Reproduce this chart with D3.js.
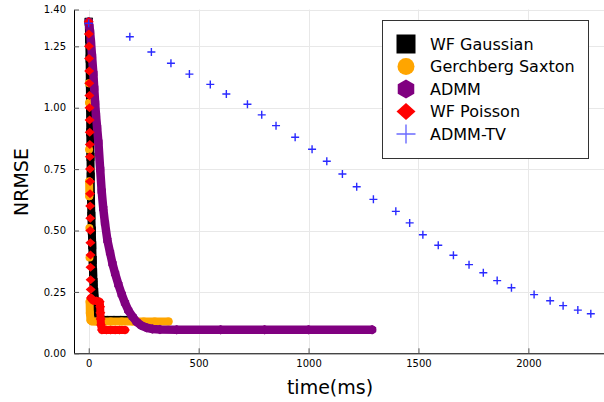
<!DOCTYPE html>
<html>
<head>
<meta charset="utf-8">
<script src="https://cdn.jsdelivr.net/npm/d3@7"></script>
<style>
  html, body { margin: 0; padding: 0; background: #fff; }
  svg { display: block; font-family: "DejaVu Sans", sans-serif; }
</style>
</head>
<body>
<div id="chart"></div>
<script>
// data (time in ms, NRMSE)
var wfGaussianTime  = [0, 2, 4, 5, 6, 7, 8, 9, 10, 12, 14, 16, 18, 20, 22, 25, 30, 38, 45, 70, 100, 130, 160, 196];
var wfGaussianNrmse = [1.35, 1.28, 1.20, 1.10, 1.00, 0.90, 0.80, 0.72, 0.64, 0.56, 0.50, 0.44, 0.38, 0.33, 0.29, 0.25, 0.21, 0.17, 0.145, 0.136, 0.136, 0.136, 0.136, 0.136];

var gsTime  = [0, 0.5, 1, 1.5, 2, 2.5, 3, 3.5, 4, 5, 8, 15, 30, 60, 100, 150, 200, 250, 300, 363];
var gsNrmse = [1.35, 1.10, 1.02, 0.83, 0.70, 0.64, 0.51, 0.39, 0.21, 0.164, 0.135, 0.13, 0.129, 0.129, 0.129, 0.129, 0.129, 0.129, 0.129, 0.129];

var admmTime  = [0, 3, 6, 10, 15, 21, 25, 29, 33, 38, 44, 52, 59, 66, 74, 85, 97, 108, 120, 135, 150, 165, 180, 200, 218, 240, 264, 290, 324, 400, 600, 800, 1000, 1289];
var admmNrmse = [1.35, 1.33, 1.31, 1.27, 1.21, 1.14, 1.08, 1.02, 0.97, 0.92, 0.86, 0.75, 0.66, 0.59, 0.53, 0.46, 0.41, 0.365, 0.325, 0.28, 0.24, 0.205, 0.175, 0.148, 0.128, 0.113, 0.104, 0.099, 0.097, 0.096, 0.096, 0.096, 0.096, 0.096];

var wfPoissonTime  = [0, 0.5, 1, 1.5, 2, 2.5, 3, 3.5, 4, 4.5, 5, 5, 5.5, 6, 6, 6.5, 7, 7, 7.5, 8, 8, 8.5, 9, 10, 20, 35, 50, 52, 53, 54, 56, 60, 80, 100, 120, 140, 165];
var wfPoissonNrmse = [1.35, 1.30, 1.25, 1.20, 1.15, 1.10, 1.05, 1.00, 0.95, 0.90, 0.85, 0.80, 0.75, 0.70, 0.65, 0.60, 0.55, 0.50, 0.45, 0.40, 0.35, 0.30, 0.26, 0.225, 0.215, 0.213, 0.21, 0.19, 0.165, 0.14, 0.115, 0.095, 0.095, 0.095, 0.095, 0.095, 0.095];

var admmTvTime  = [0, 187, 285, 374, 458, 553, 626, 722, 787, 852, 939, 1016, 1083, 1154, 1219, 1295, 1397, 1460, 1520, 1590, 1659, 1730, 1795, 1858, 1923, 2026, 2099, 2158, 2225, 2284];
var admmTvNrmse = [1.344, 1.289, 1.227, 1.181, 1.137, 1.095, 1.056, 1.014, 0.971, 0.927, 0.880, 0.831, 0.782, 0.730, 0.678, 0.627, 0.578, 0.531, 0.483, 0.440, 0.399, 0.361, 0.328, 0.296, 0.267, 0.239, 0.214, 0.194, 0.176, 0.161];

var seriesNames = ["WF Gaussian", "Gerchberg Saxton", "ADMM", "WF Poisson", "ADMM-TV"];
var xTicks = [0, 500, 1000, 1500, 2000];
var yTicks = [0, 0.25, 0.5, 0.75, 1.0, 1.25, 1.40];

(function() {
  "use strict";

  var svgWidth = 604, svgHeight = 402;
  var plot = {left: 74, right: 604, top: 9.5, bottom: 353.3};

  // styling per series (order = draw order)
  var series = [
    {t: wfGaussianTime, v: wfGaussianNrmse, color: "#000000", shape: "square",  size: 8,   band: 8,   maxStep: Infinity, cap: "square"},
    {t: gsTime,         v: gsNrmse,         color: "#ffa500", shape: "circle",  size: 8,   band: 8,   maxStep: 0.06,     cap: "round"},
    {t: admmTime,       v: admmNrmse,       color: "#800080", shape: "hexagon", size: 9,   band: 8.5, maxStep: Infinity, cap: "round"},
    {t: wfPoissonTime,  v: wfPoissonNrmse,  color: "#ff0000", shape: "diamond", size: 10,  band: 8,   maxStep: 0.03,     cap: "round"},
    {t: admmTvTime,     v: admmTvNrmse,     color: "#2a2aff", shape: "cross",   size: 8,   band: 0,   maxStep: 0,        cap: "round"}
  ];
  series.forEach(function(s, i) { s.name = seriesNames[i]; });

  var x = d3.scaleLinear().domain([-67, 2344]).range([plot.left, plot.right]);
  var y = d3.scaleLinear().domain([0, 1.4]).range([plot.bottom, plot.top]);

  var svg = d3.select("#chart").append("svg")
      .attr("width", svgWidth)
      .attr("height", svgHeight);

  svg.append("rect").attr("width", svgWidth).attr("height", svgHeight).attr("fill", "#fff");

  // grid
  var grid = svg.append("g").attr("stroke", "#e8e8e8").attr("stroke-width", 1);
  grid.selectAll("line.gx").data(xTicks).enter().append("line")
      .attr("x1", function(d) { return Math.round(x(d)) + 0.5; })
      .attr("x2", function(d) { return Math.round(x(d)) + 0.5; })
      .attr("y1", plot.top).attr("y2", plot.bottom);
  grid.selectAll("line.gy").data(yTicks).enter().append("line")
      .attr("y1", function(d) { return Math.round(y(d)) + 0.5; })
      .attr("y2", function(d) { return Math.round(y(d)) + 0.5; })
      .attr("x1", plot.left).attr("x2", plot.right);

  // marker shapes, centred on 0,0
  function drawMarker(g, shape, size, color) {
    var r = size / 2;
    if (shape === "square") {
      g.append("rect").attr("x", -r).attr("y", -r).attr("width", size).attr("height", size).attr("fill", color);
    } else if (shape === "circle") {
      g.append("circle").attr("r", r).attr("fill", color);
    } else if (shape === "hexagon") {
      var pts = d3.range(6).map(function(k) {
        var a = Math.PI / 2 + k * Math.PI / 3;
        return [r * 1.06 * Math.cos(a), r * 1.06 * Math.sin(a)];
      });
      g.append("polygon").attr("points", pts.join(" ")).attr("fill", color);
    } else if (shape === "diamond") {
      g.append("polygon")
        .attr("points", [[0, -r * 0.9], [r, 0], [0, r * 0.9], [-r, 0]].join(" "))
        .attr("fill", color);
    } else if (shape === "cross") {
      g.append("path")
        .attr("d", "M" + (-r) + ",0H" + r + "M0," + (-r) + "V" + r)
        .attr("stroke", color).attr("stroke-width", 1.4).attr("fill", "none");
    }
  }

  // split a series into runs of small steps, drawn as a thick band under the markers
  function bandRuns(s) {
    var runs = [], run = null;
    for (var i = 1; i < s.t.length; i++) {
      if (Math.abs(s.v[i] - s.v[i - 1]) <= s.maxStep) {
        if (!run) { run = [[s.t[i - 1], s.v[i - 1]]]; runs.push(run); }
        run.push([s.t[i], s.v[i]]);
      } else {
        run = null;
      }
    }
    return runs;
  }

  var line = d3.line()
      .x(function(d) { return x(d[0]); })
      .y(function(d) { return y(d[1]); });

  series.forEach(function(s) {
    var g = svg.append("g");
    if (s.band > 0) {
      g.selectAll("path.band").data(bandRuns(s)).enter().append("path")
          .attr("d", line)
          .attr("fill", "none")
          .attr("stroke", s.color)
          .attr("stroke-width", s.band)
          .attr("stroke-linejoin", "round")
          .attr("stroke-linecap", s.cap);
    }
    g.selectAll("g.pt").data(d3.range(s.t.length)).enter().append("g")
        .attr("transform", function(i) { return "translate(" + x(s.t[i]) + "," + y(s.v[i]) + ")"; })
        .each(function() { drawMarker(d3.select(this), s.shape, s.size, s.color); });
  });

  // axes, ticks pointing inward
  var xAxis = d3.axisBottom(x).tickValues(xTicks).tickFormat(d3.format("d")).tickSizeInner(-5).tickSizeOuter(0).tickPadding(7);
  var yAxis = d3.axisLeft(y).tickValues(yTicks).tickFormat(d3.format(".2f")).tickSizeInner(-5).tickSizeOuter(0).tickPadding(8);

  var gx = svg.append("g").attr("transform", "translate(0," + plot.bottom + ")").call(xAxis);
  var gy = svg.append("g").attr("transform", "translate(" + plot.left + ",0)").call(yAxis);
  [gx, gy].forEach(function(ga) {
    ga.selectAll("text").attr("font-family", "DejaVu Sans").attr("font-size", 10).attr("fill", "#000");
    ga.selectAll(".tick line").attr("stroke", "#555");
    ga.select(".domain").attr("stroke", "#000");
  });

  // axis titles
  svg.append("text")
      .attr("x", 330).attr("y", 394)
      .attr("text-anchor", "middle")
      .attr("font-size", 19)
      .text("time(ms)");
  svg.append("text")
      .attr("transform", "translate(28,182) rotate(-90)")
      .attr("text-anchor", "middle")
      .attr("font-size", 19)
      .text("NRMSE");

  // legend
  var legend = svg.append("g");
  legend.append("rect")
      .attr("x", 382.5).attr("y", 20.5)
      .attr("width", 206).attr("height", 138)
      .attr("fill", "#fff").attr("stroke", "#333").attr("stroke-width", 1);

  var legendSize = {square: 19, circle: 17, hexagon: 18, diamond: 19, cross: 19};
  series.forEach(function(s, i) {
    var cy = 44 + i * 22.5;
    var m = legend.append("g").attr("transform", "translate(406," + cy + ")");
    drawMarker(m, s.shape, legendSize[s.shape], s.shape === "cross" ? "#6b6bff" : s.color);
    legend.append("text")
        .attr("x", 430).attr("y", cy).attr("dy", "0.36em")
        .attr("font-size", 16)
        .text(s.name);
  });
})();
</script>
</body>
</html>
